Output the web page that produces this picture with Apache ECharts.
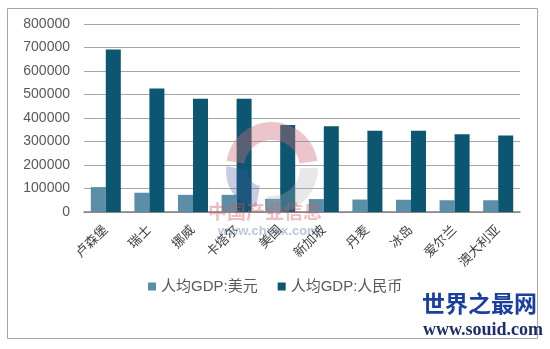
<!DOCTYPE html>
<html>
<head>
<meta charset="utf-8">
<script src="https://cdn.jsdelivr.net/npm/echarts@6/dist/echarts.min.js"></script>
<style>
html,body{margin:0;padding:0;background:#fff;}
#chart{width:550px;height:349px;}
</style>
</head>
<body>
<div id="chart"></div>
<script>
// 各国人均GDP（美元 / 人民币）
const countries = ['卢森堡', '瑞士', '挪威', '卡塔尔', '美国', '新加坡', '丹麦', '冰岛', '爱尔兰', '澳大利亚'];
const gdpUsd = [106000, 82000, 73000, 73000, 56000, 55000, 53000, 52000, 50000, 50000];
const gdpCny = [692000, 526000, 482000, 482000, 370000, 365000, 346000, 346000, 331000, 326000];
const yTicks = [0, 100000, 200000, 300000, 400000, 500000, 600000, 700000, 800000];

const chart = echarts.init(document.getElementById('chart'), null, {renderer: 'canvas'});
const font = 'Arial, "Liberation Sans", "Noto Sans CJK SC", sans-serif';

chart.setOption({
  animation: false,
  textStyle: {fontFamily: font},
  grid: {left: 84, right: 30, top: 24, bottom: 137, containLabel: false},
  xAxis: {
    type: 'category',
    data: countries,
    axisTick: {show: false},
    axisLine: {lineStyle: {color: '#808080', width: 1.5}},
    axisLabel: {rotate: 45, margin: 16, fontSize: 13, color: '#404040', interval: 0}
  },
  yAxis: {
    type: 'value',
    min: yTicks[0],
    max: yTicks[yTicks.length - 1],
    interval: yTicks[1] - yTicks[0],
    axisLine: {show: false},
    axisTick: {show: false},
    axisLabel: {fontSize: 14, color: '#595959', margin: 14, formatter: v => String(v)},
    splitLine: {lineStyle: {color: '#a6a6a6', width: 1}}
  },
  legend: {
    left: 143,
    top: 274,
    itemWidth: 8,
    itemHeight: 8,
    itemGap: 20,
    icon: 'rect',
    textStyle: {fontSize: 15, color: '#595959', fontFamily: font},
    data: ['人均GDP:美元', '人均GDP:人民币']
  },
  series: [
    {name: '人均GDP:美元', type: 'bar', data: gdpUsd, barWidth: 15, barGap: '0%',
     itemStyle: {color: '#5b8fa7'}},
    {name: '人均GDP:人民币', type: 'bar', data: gdpCny, barWidth: 15,
     itemStyle: {color: '#0c5671'}}
  ],
  graphic: [
    {type: 'rect', shape: {x: 7.5, y: 8.5, width: 530, height: 330}, silent: true,
     style: {fill: 'none', stroke: '#a6a6a6', lineWidth: 1}},
    // chyxx logo ring
    {type: 'sector', silent: true, z: 10,
     shape: {cx: 272, cy: 168, r: 46, r0: 28, startAngle: Math.PI * 1.05, endAngle: Math.PI * 1.95},
     style: {fill: 'rgba(205,110,120,0.4)'}},
    {type: 'sector', silent: true, z: 10,
     shape: {cx: 272, cy: 168, r: 46, r0: 28, startAngle: Math.PI * 0.0, endAngle: Math.PI * 0.55},
     style: {fill: 'rgba(180,180,185,0.3)'}},
    {type: 'sector', silent: true, z: 10,
     shape: {cx: 262, cy: 172, r: 36, r0: 14, startAngle: Math.PI * 0.55, endAngle: Math.PI * 1.05},
     style: {fill: 'rgba(70,90,160,0.3)'}},
    {type: 'text', silent: true, z: 10, left: 208, top: 202,
     style: {text: '中国产业信息', font: 'bold 19px "Noto Sans CJK SC", sans-serif', fill: 'rgba(210,90,100,0.4)'}},
    {type: 'text', silent: true, z: 10, left: 218, top: 225,
     style: {text: 'www.chyxx.com', font: 'bold 13px Arial, sans-serif', fill: 'rgba(90,110,160,0.4)'}},
    // souid watermark
    {type: 'text', silent: true, z: 20, left: 422, top: 292,
     style: {text: '世界之最网', font: 'bold 23px "Noto Sans CJK SC", sans-serif', fill: '#1a3fa0'}},
    {type: 'text', silent: true, z: 20, left: 423, top: 321,
     style: {text: 'www.souid.com', font: 'bold 18px "Liberation Serif", "DejaVu Serif", serif', fill: '#1d2f6a'}}
  ]
});
</script>
</body>
</html>
